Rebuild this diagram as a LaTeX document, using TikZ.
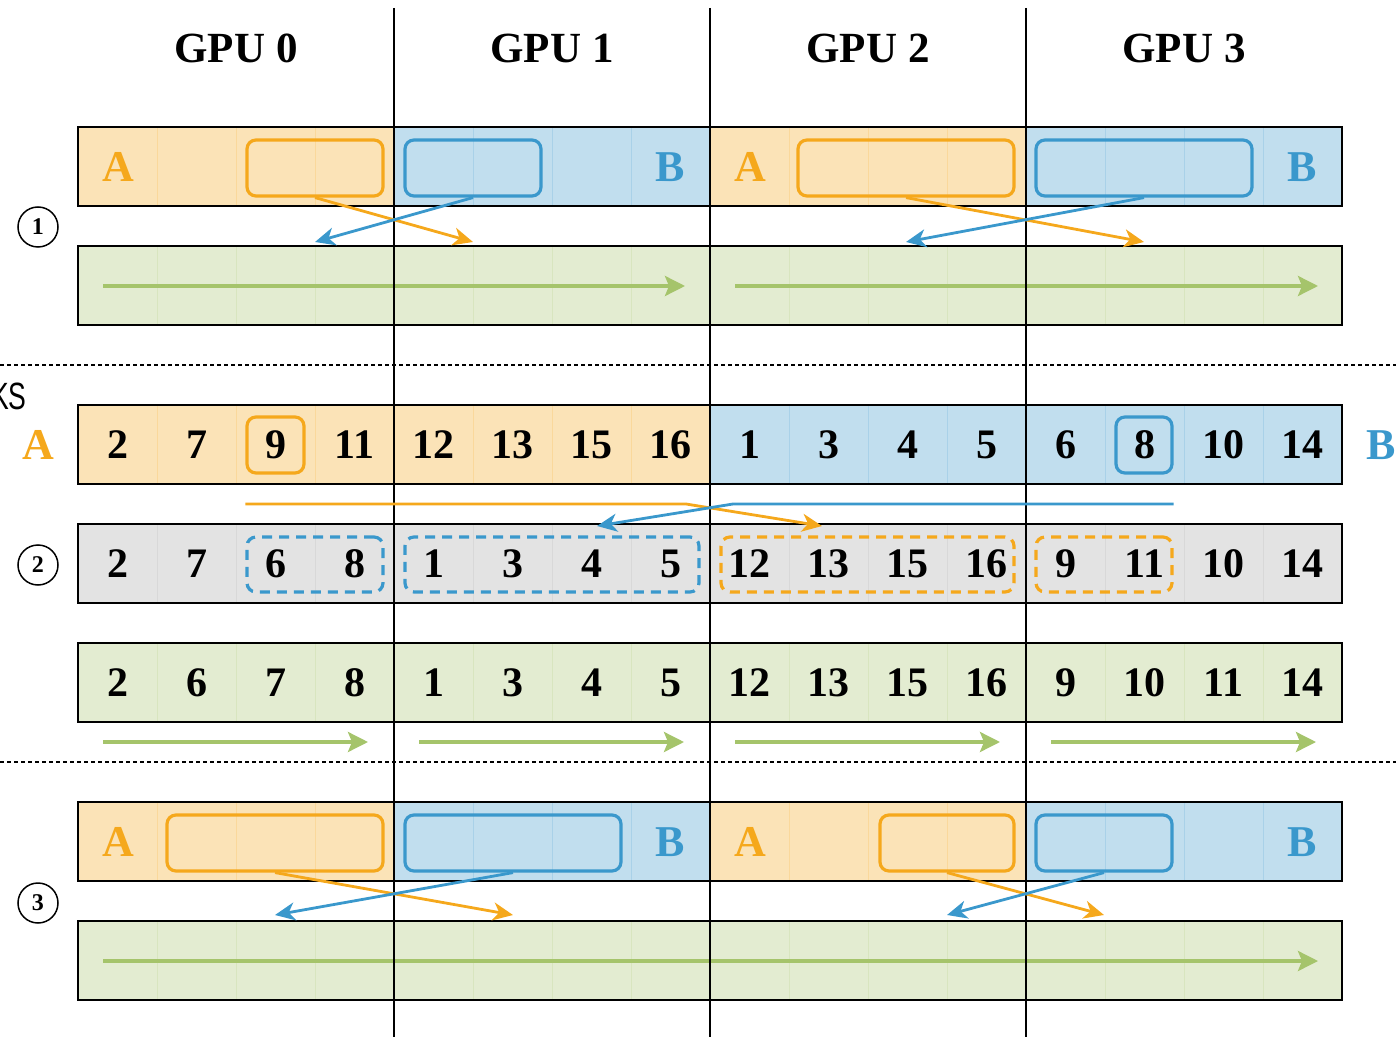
\documentclass[tikz,border=0pt]{standalone}
\usepackage{fontspec}
\setmainfont{Liberation Serif}
\newfontfamily\tagfont{Liberation Sans}
\usepackage{xcolor}
\usepackage{tikz}
\usetikzlibrary{positioning, calc, fit, arrows.meta}

\definecolor{oline}{HTML}{F5A81C}
\definecolor{ofill}{HTML}{FBE3B7}
\definecolor{bline}{HTML}{3A98CC}
\definecolor{bfill}{HTML}{C1DEEE}
\definecolor{gline}{HTML}{A5C46B}
\definecolor{gfill}{HTML}{E3ECD1}
\definecolor{kline}{HTML}{A8A8A8}
\definecolor{kfill}{HTML}{E3E3E3}

\tikzset{
  cell/.style={fill=#1fill, draw=#1fill!82!#1line, line width=0.4pt},
  barframe/.style={draw=black, line width=1pt, inner sep=0pt},
  pick/.style={draw=#1line, rounded corners=4.5pt, line width=1.6pt, inner sep=0pt},
  pickdash/.style={pick=#1, dash pattern=on 5pt off 3.5pt},
  num/.style={font=\bfseries\fontsize{21}{24}\selectfont},
  gpu/.style={font=\bfseries\fontsize{21.5}{24}\selectfont},
  side/.style={font=\bfseries\fontsize{22}{24}\selectfont, text=#1line},
  stage/.style={circle, draw, line width=0.75pt, minimum size=20pt, inner sep=0pt,
    font=\bfseries\fontsize{12}{12}\selectfont},
  swap/.style={draw=#1line, line width=1.4pt, -{Stealth[length=10pt, width=9pt, inset=3pt]}},
  flow/.style={draw=gline, line width=1.7pt, -{Stealth[length=10pt, width=10pt, inset=2pt]}},
  gpuline/.style={draw=black, line width=1pt},
  sep/.style={line width=0.7pt, dash pattern=on 2pt off 1.5pt},
}

\begin{document}
\begin{tikzpicture}[x=0.5pt, y=-0.5pt]
  \useasboundingbox (0,0) rectangle (1396,1037);

  % headers
  \foreach \g in {0,...,3}
    \node[gpu] (gpu\g) at ({236+316*\g},48) {GPU \g};

  % --- stage 1 ---
  \foreach \c [count=\i from 0] in {o,o,o,o,b,b,b,b,o,o,o,o,b,b,b,b}
    \draw[cell=\c] ({78+79*\i},127) rectangle ++(79,79);
  \node[barframe, fit={(78,127)(1342,206)}] (src1) {};
  \foreach \i in {0,...,15}
    \draw[cell=g] ({78+79*\i},246) rectangle ++(79,79);
  \node[barframe, fit={(78,246)(1342,325)}] (track1) {};
  \draw[flow] (103,286) -- (685,286);
  \draw[flow] (735,286) -- (1318,286);

  \node[side=o] (a1l) at (118,167) {A};
  \node[side=b] (b1l) at (670,167) {B};
  \node[side=o] (a1r) at (750,167) {A};
  \node[side=b] (b1r) at (1302,167) {B};
  \node[stage] (s1) at (38,227) {1};

  % --- stage 2 ---
  \draw[sep] (0,365) -- (1396,365);
  \node[font=\tagfont\fontsize{19}{20}\selectfont, anchor=east, xscale=0.7, inner sep=0pt] (tag) at (27,396) {KS};

  \foreach \c [count=\i from 0] in {o,o,o,o,o,o,o,o,b,b,b,b,b,b,b,b}
    \draw[cell=\c] ({78+79*\i},405) rectangle ++(79,79);
  \node[barframe, fit={(78,405)(1342,484)}] (src2) {};
  \foreach \i in {0,...,15}
    \draw[cell=k] ({78+79*\i},524) rectangle ++(79,79);
  \node[barframe, fit={(78,524)(1342,603)}] (mix2) {};
  \foreach \i in {0,...,15}
    \draw[cell=g] ({78+79*\i},643) rectangle ++(79,79);
  \node[barframe, fit={(78,643)(1342,722)}] (track2) {};

  \foreach \v [count=\i from 0] in {2,7,9,11,12,13,15,16,1,3,4,5,6,8,10,14}
    \node[num] (top\i) at ({117.5+79*\i},445) {\v};
  \foreach \v [count=\i from 0] in {2,7,6,8,1,3,4,5,12,13,15,16,9,11,10,14}
    \node[num] (mid\i) at ({117.5+79*\i},564) {\v};
  \foreach \v [count=\i from 0] in {2,6,7,8,1,3,4,5,12,13,15,16,9,10,11,14}
    \node[num] (low\i) at ({117.5+79*\i},683) {\v};

  \node[side=o] (a2) at (38,445) {A};
  \node[side=b] (b2) at (1381,445) {B};
  \node[stage] (s2) at (38,565) {2};

  \node[pick=o, fit={(247,417)(304,473)}] (sel9) {};
  \node[pick=b, fit={(1116,417)(1172,473)}] (sel8) {};
  \node[pickdash=b, fit={(247,537)(383,592)}] (in0) {};
  \node[pickdash=b, fit={(405,537)(699,592)}] (in1) {};
  \node[pickdash=o, fit={(721,537)(1014,592)}] (in2) {};
  \node[pickdash=o, fit={(1036,537)(1172,592)}] (in3) {};

  \foreach \g in {0,...,3}
    \draw[flow] ({103+316*\g},742) -- ({368+316*\g},742);

  % --- stage 3 ---
  \draw[sep] (0,762) -- (1396,762);
  \foreach \c [count=\i from 0] in {o,o,o,o,b,b,b,b,o,o,o,o,b,b,b,b}
    \draw[cell=\c] ({78+79*\i},802) rectangle ++(79,79);
  \node[barframe, fit={(78,802)(1342,881)}] (src3) {};
  \foreach \i in {0,...,15}
    \draw[cell=g] ({78+79*\i},921) rectangle ++(79,79);
  \node[barframe, fit={(78,921)(1342,1000)}] (track3) {};
  \draw[flow] (103,961) -- (1318,961);

  \node[side=o] (a3l) at (118,842) {A};
  \node[side=b] (b3l) at (670,842) {B};
  \node[side=o] (a3r) at (750,842) {A};
  \node[side=b] (b3r) at (1302,842) {B};
  \node[stage] (s3) at (38,903) {3};

  % gpu borders
  \foreach \x in {394,710,1026}
    \draw[gpuline] (\x,8) -- (\x,1037);

  % exchanged blocks, stage 1
  \node[pick=o, fit={(247,140)(383,196)}] (selA0) {};
  \node[pick=b, fit={(405,140)(541,196)}] (selB0) {};
  \node[pick=o, fit={(798,140)(1014,196)}] (selA1) {};
  \node[pick=b, fit={(1036,140)(1252,196)}] (selB1) {};
  \draw[swap=o] (selA0.south) -- ([yshift=1.5pt]selB0.south |- track1.north);
  \draw[swap=b] (selB0.south) -- ([yshift=1.5pt]selA0.south |- track1.north);
  \draw[swap=o] (selA1.south) -- ([yshift=1.5pt]selB1.south |- track1.north);
  \draw[swap=b] (selB1.south) -- ([yshift=1.5pt]selA1.south |- track1.north);

  % splitters, stage 2
  \coordinate (bendA) at (686,504);
  \coordinate (bendB) at (733,504);
  \coordinate (dropA) at (822,526);
  \coordinate (dropB) at (597,526);
  \draw[swap=o] (sel9.west |- bendA) -- (bendA) -- (dropA);
  \draw[swap=b] (sel8.east |- bendB) -- (bendB) -- (dropB);

  % exchanged blocks, stage 3
  \node[pick=o, fit={(167,815)(383,871)}] (selA2) {};
  \node[pick=b, fit={(405,815)(621,871)}] (selB2) {};
  \node[pick=o, fit={(880,815)(1014,871)}] (selA3) {};
  \node[pick=b, fit={(1036,815)(1172,871)}] (selB3) {};
  \draw[swap=o] (selA2.south) -- ([yshift=2.5pt]selB2.south |- track3.north);
  \draw[swap=b] (selB2.south) -- ([yshift=2.5pt]selA2.south |- track3.north);
  \draw[swap=o] (selA3.south) -- ([yshift=2.5pt]selB3.south |- track3.north);
  \draw[swap=b] (selB3.south) -- ([yshift=2.5pt]selA3.south |- track3.north);
\end{tikzpicture}
\end{document}
